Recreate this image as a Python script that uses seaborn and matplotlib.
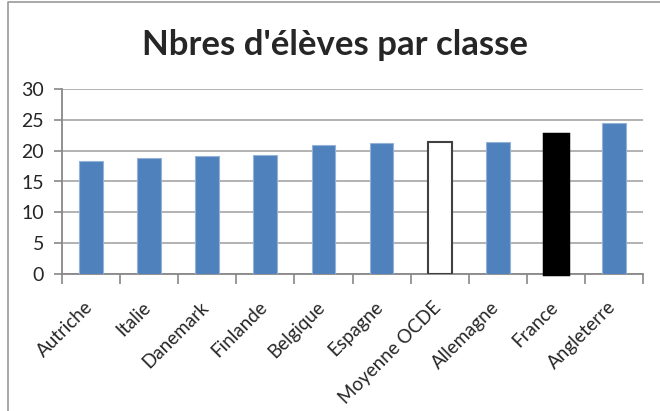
import matplotlib
matplotlib.use("Agg")
import matplotlib.pyplot as plt
import matplotlib.transforms as mtransforms
import seaborn as sns
import pandas as pd
from matplotlib.lines import Line2D

categories = ["Autriche", "Italie", "Danemark", "Finlande", "Belgique",
              "Espagne", "Moyenne OCDE", "Allemagne", "France", "Angleterre"]
values = [18.4, 18.9, 19.2, 19.4, 20.9, 21.2, 21.4, 21.4, 22.7, 24.5]
fill_colors = ["#4F81BD"] * 6 + ["#FFFFFF", "#4F81BD", "#000000", "#4F81BD"]
edge_colors = ["#95B3D7"] * 6 + ["#404040", "#95B3D7", "#000000", "#95B3D7"]
yticks = [0, 5, 10, 15, 20, 25, 30]
title = "Nbres d'élèves par classe"

sns.set_style("white")
plt.rcParams['font.family'] = ['Lato', 'DejaVu Sans']

df = pd.DataFrame({"pays": categories, "eleves": values})

fig = plt.figure(figsize=(6.6, 4.11), dpi=100)
ax = fig.add_axes([62/660, 1-273.5/411, (643-62)/660, (273.5-89.5)/411])

sns.barplot(data=df, x="pays", y="eleves", hue="pays", palette=fill_colors,
            legend=False, width=0.41, ax=ax, saturation=1)
for patch, ec, name in zip(ax.patches, edge_colors, categories):
    patch.set_edgecolor(ec)
    patch.set_linewidth(1.5 if name == "Moyenne OCDE" else 0.8)
    patch.set_zorder(3)
    if name == "France":
        patch.set_linewidth(2.5)
        patch.set_clip_on(False)

ax.set_xlim(-0.5, len(categories) - 0.5)
ax.set_ylim(0, 30)
ax.set_yticks(yticks)
ax.set_yticklabels([str(t) for t in yticks], fontsize=14)
ax.yaxis.grid(True, color="#A6A6A6", linewidth=1.2, zorder=0)
ax.set_axisbelow(True)
ax.set_xlabel("")
ax.set_ylabel("")

# Excel-style ticks at category boundaries
ax.set_xticks([i - 0.5 for i in range(len(categories) + 1)], minor=False)
ax.set_xticklabels([])
ax.tick_params(axis="x", which="major", direction="out", length=7, width=1.2,
               color="#888888", bottom=True)
ax.set_xticks(range(len(categories)), minor=True)
ax.set_xticklabels(categories, minor=True, rotation=45, ha="right",
                   rotation_mode="anchor", fontsize=13.5)
ax.tick_params(axis="x", which="minor", length=0, pad=18)
offset = mtransforms.ScaledTranslation(-7/100, 0, fig.dpi_scale_trans)
for lab in ax.get_xticklabels(minor=True):
    lab.set_transform(lab.get_transform() + offset)

ax.tick_params(axis="y", direction="out", length=6, width=1.2, color="#888888",
               left=True, pad=7)

for side in ("top", "right"):
    ax.spines[side].set_visible(False)
for side in ("left", "bottom"):
    ax.spines[side].set_color("#888888")
    ax.spines[side].set_linewidth(1.3)

fig.text(335/660, 1-45/411, title, ha="center", va="center",
         fontsize=25, fontweight="bold")

# chart frame (left and top edges visible)
fig.add_artist(Line2D([8/660, 8/660, 1.0], [0.0, 1-2.5/411, 1-2.5/411],
                      transform=fig.transFigure, color="#9A9A9A", linewidth=1.2))

fig.savefig("out.png", dpi=100)
